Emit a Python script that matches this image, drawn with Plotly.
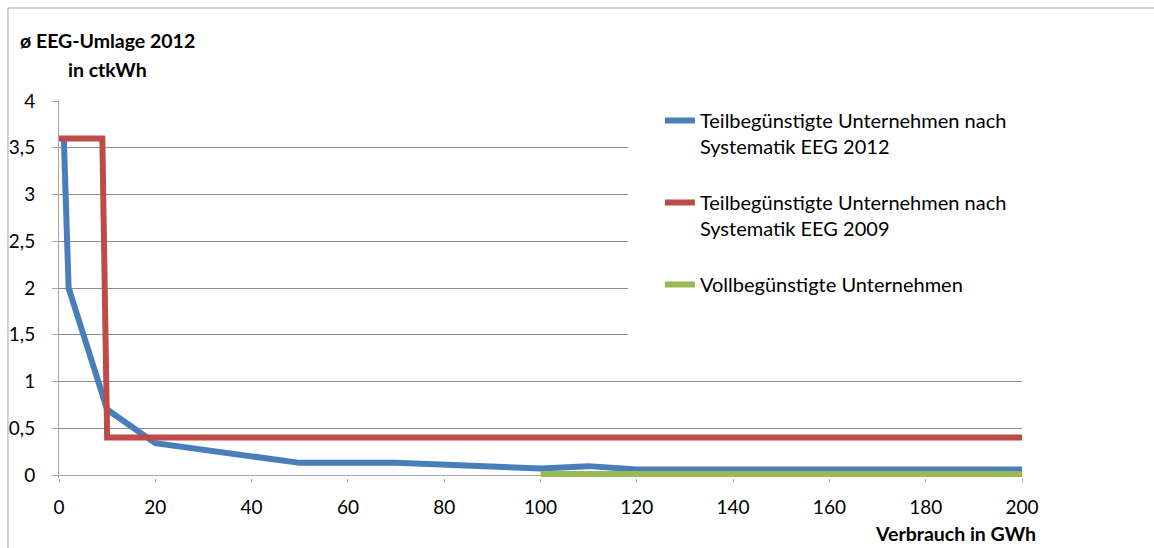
import plotly.graph_objects as go

# Data
blue_name = "Teilbegünstigte Unternehmen nach<br>Systematik EEG 2012"
blue_x = [1, 2, 10, 20, 50, 70, 100, 110, 120, 200]
blue_y = [3.6, 2.0, 0.7, 0.34, 0.13, 0.13, 0.07, 0.095, 0.06, 0.06]

red_name = "Teilbegünstigte Unternehmen nach<br>Systematik EEG 2009"
red_x = [0, 9, 10, 200]
red_y = [3.6, 3.6, 0.4, 0.4]

green_name = "Vollbegünstigte Unternehmen"
green_x = [100, 200]
green_y = [0.01, 0.01]

x_ticks = [0, 20, 40, 60, 80, 100, 120, 140, 160, 180, 200]
y_ticks = [0, 0.5, 1, 1.5, 2, 2.5, 3, 3.5, 4]

FONT = "Lato"
GRID = "#8C8C8C"
AXIS = "#A6A6A6"

H_PLOT = 377.0   # plot area height in px
Y0_PX = 478.0    # pixel row of paper y = 0


def py(px):
    return (Y0_PX - px) / H_PLOT


fig = go.Figure()
fig.add_trace(go.Scatter(x=blue_x, y=blue_y, mode="lines", name=blue_name,
                         legendgroup="a",
                         line=dict(color="#4A7EBB", width=6)))
fig.add_trace(go.Scatter(x=red_x, y=red_y, mode="lines", name=red_name,
                         legendgroup="b",
                         line=dict(color="#BE4B48", width=6)))
fig.add_trace(go.Scatter(x=green_x, y=green_y, mode="lines", name=green_name,
                         legendgroup="c",
                         line=dict(color="#98B954", width=6)))

fig.update_layout(
    width=1154, height=548,
    margin=dict(l=59, r=132, t=101, b=70),
    paper_bgcolor="white", plot_bgcolor="white",
    separators=", ",
    font=dict(family=FONT, size=19, color="black"),
    showlegend=True,
    legend=dict(x=0.624, xanchor="left", y=1.0, yanchor="top",
                bgcolor="rgba(0,0,0,0)", font=dict(size=20, family=FONT),
                tracegroupgap=27, valign="top"),
    xaxis=dict(range=[0, 200], tickvals=x_ticks, showgrid=False,
               showline=False, automargin=False,
               ticks="outside", ticklen=3, tickcolor=AXIS,
               zeroline=False, fixedrange=True, ticklabelstandoff=9),
    yaxis=dict(range=[-0.032, 4], tickvals=y_ticks, showgrid=True,
               gridcolor=GRID, gridwidth=1, automargin=False,
               showline=True, linecolor=AXIS, linewidth=1,
               ticks="outside", ticklen=6, tickcolor=AXIS,
               zeroline=True, zerolinecolor=AXIS, zerolinewidth=1,
               fixedrange=True, ticklabelstandoff=13),
    shapes=[
        # white area behind legend hiding gridlines
        dict(type="rect", xref="paper", yref="paper", x0=0.591, x1=1.01,
             y0=py(360), y1=py(95), fillcolor="white", line=dict(width=0),
             layer="above"),
        # outer chart border
        dict(type="rect", xref="paper", yref="paper", x0=-0.053, x1=1.3,
             y0=-0.4, y1=py(8), fillcolor="rgba(0,0,0,0)",
             line=dict(color=AXIS, width=1), layer="below"),
    ],
    annotations=[
        dict(text="<b>ø EEG-Umlage 2012</b>", xref="paper", yref="paper",
             x=(107 - 59) / 963, y=py(40), xanchor="center",
             yanchor="middle", showarrow=False, font=dict(size=19.5)),
        dict(text="<b>in ctkWh</b>", xref="paper", yref="paper",
             x=(107 - 59) / 963, y=py(70), xanchor="center",
             yanchor="middle", showarrow=False, font=dict(size=19.5)),
        dict(text="<b>Verbrauch in GWh</b>", xref="paper", yref="paper",
             x=(1038 - 59) / 963, y=py(533), xanchor="right",
             yanchor="middle", showarrow=False, font=dict(size=19.5)),
    ],
)

fig.write_html("out.html")
